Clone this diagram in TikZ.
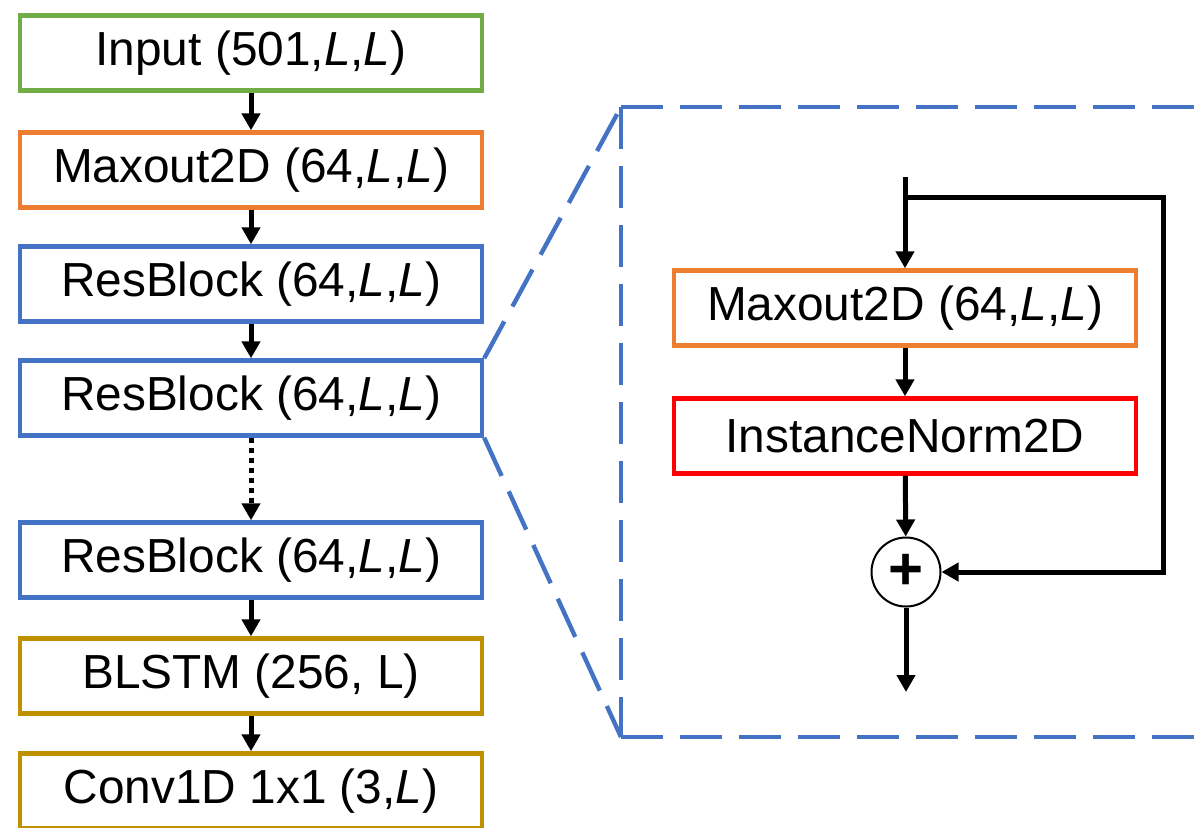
\documentclass[tikz,border=0pt]{standalone}
\usepackage{fontspec}
\setmainfont{Liberation Sans}
\usetikzlibrary{arrows.meta}
\definecolor{ingreen}{HTML}{70AD47}
\definecolor{maxorange}{HTML}{ED7D31}
\definecolor{resblue}{HTML}{4472C4}
\definecolor{rnngold}{HTML}{BF9000}
\definecolor{normred}{HTML}{FF0000}
\tikzset{
  layer/.style={draw, line width=2.2pt, fill=white, minimum width=231pt,
    minimum height=37.5pt, inner sep=0pt, font=\fontsize{23.9}{28}\selectfont},
  flow/.style={draw=black, line width=2.5pt, -{Triangle[length=8.5pt,width=9pt]}},
  dotflow/.style={flow, dash pattern=on 2.5pt off 2.5pt},
  zoomline/.style={draw=resblue, line width=2.2pt, dash pattern=on 21pt off 8.5pt},
  sumnode/.style={circle, draw=black, line width=1pt, minimum size=34.5pt,
    inner sep=0pt, font=\bfseries\fontsize{30}{32}\selectfont}
}
\newcommand{\Ls}{\textit{L}}

\begin{document}
\begin{tikzpicture}[x=0.5pt,y=-0.5pt]
  \clip (0,0) rectangle (1195,827);

  % Main network column.
  \node[layer, draw=ingreen]   (input)  at (251,53)  {Input (501,\Ls,\Ls)};
  \node[layer, draw=maxorange] (maxout) at (251,170) {Maxout2D (64,\Ls,\Ls)};
  \node[layer, draw=resblue]   (resa)   at (251,284) {ResBlock (64,\Ls,\Ls)};
  \node[layer, draw=resblue]   (resb)   at (251,398) {ResBlock (64,\Ls,\Ls)};
  \node[layer, draw=resblue]   (resc)   at (251,560) {ResBlock (64,\Ls,\Ls)};
  \node[layer, draw=rnngold]   (blstm)  at (251,676) {BLSTM (256, L)};
  \node[layer, draw=rnngold]   (conv)   at (251,791) {Conv1D 1x1 (3,\Ls)};

  \draw[flow] (input) -- (maxout);
  \draw[flow] (maxout) -- (resa);
  \draw[flow] (resa) -- (resb);
  \draw[dotflow] (resb) -- (resc);
  \draw[flow] (resc) -- (blstm);
  \draw[flow] (blstm) -- (conv);

  % Zoomed residual block frame.
  \coordinate (zoomtl) at (621,107);
  \coordinate (zoombl) at (621,737);
  \draw[zoomline] (zoomtl) -- (1260,107);
  \draw[zoomline] (zoomtl) -- (zoombl);
  \draw[zoomline] (zoombl) -- (1260,737);
  \draw[zoomline] (resb.north east) -- (zoomtl);
  \draw[zoomline] (resb.south east) -- (zoombl);

  % Residual block internals.
  \node[layer, draw=maxorange] (inmax)  at (905,308) {Maxout2D (64,\Ls,\Ls)};
  \node[layer, draw=normred]   (inorm)  at (905,436) {InstanceNorm2D};
  \node[sumnode]               (plus)   at (906,572) {+};
  \coordinate (resin)  at (905,177);
  \coordinate (branch) at (905,197);
  \coordinate (skipr)  at (1163,197);
  \coordinate (resout) at (906,692);

  \draw[flow] (resin) -- (inmax);
  \draw[flow] (inmax) -- (inorm);
  \draw[flow] (inorm) -- (plus);
  \draw[flow] (branch) -- (skipr) |- (plus.east);
  \draw[flow] (plus) -- (resout);
\end{tikzpicture}
\end{document}
